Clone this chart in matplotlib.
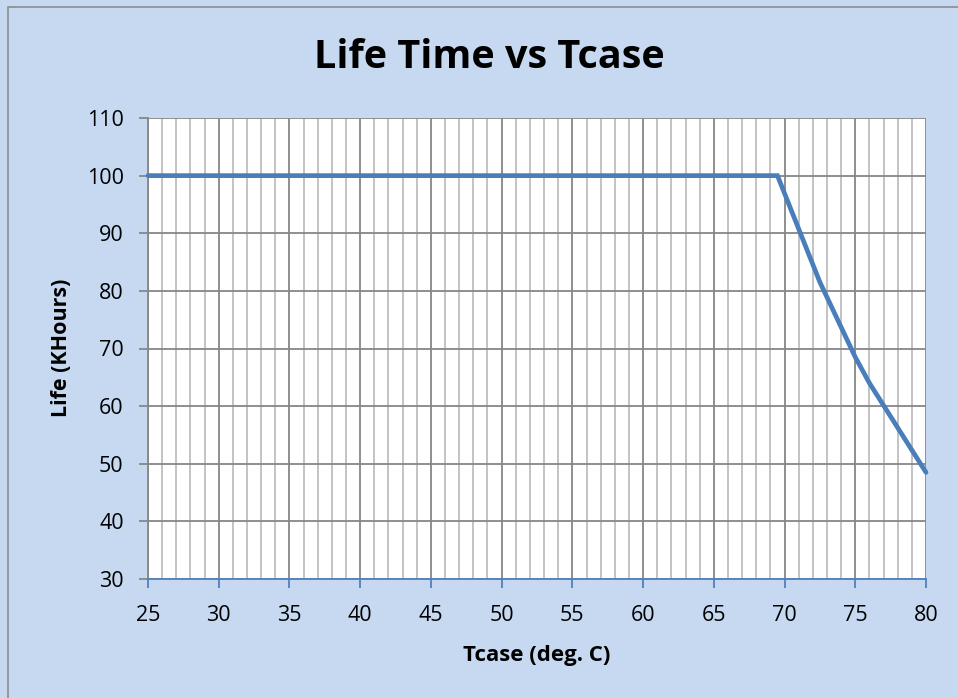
import matplotlib
matplotlib.use("Agg")
import matplotlib.pyplot as plt
from matplotlib.patches import Rectangle

# values
tcase = [25, 69.5, 72.5, 75, 76, 80]
life = [100, 100, 81.5, 68.5, 64, 48.5]

x_ticks = [25, 30, 35, 40, 45, 50, 55, 60, 65, 70, 75, 80]
y_ticks = [30, 40, 50, 60, 70, 80, 90, 100, 110]

bg = "#C6D9F0"
plt.rcParams["font.family"] = ["Open Sans", "DejaVu Sans"]

fig = plt.figure(figsize=(9.58, 6.98), dpi=100, facecolor=bg)
fig.patches.append(Rectangle((8 / 958, -0.1), 1.2, 1 - 7 / 698 + 0.1,
                             transform=fig.transFigure, fill=False,
                             edgecolor="#8C8C8C", linewidth=1.2))

ax = fig.add_axes([148 / 958, 1 - 579 / 698, (926 - 148) / 958, (579 - 118) / 698])
ax.set_facecolor("white")

ax.set_xlim(25, 80)
ax.set_ylim(30, 110)
ax.set_xticks(x_ticks)
ax.set_xticks(range(25, 81), minor=True)
ax.set_yticks(y_ticks)

ax.grid(which="minor", axis="x", color="#BEBEBE", linewidth=1.3)
ax.grid(which="major", axis="x", color="#868686", linewidth=1.3)
ax.grid(which="major", axis="y", color="#868686", linewidth=1.3)
ax.set_axisbelow(True)

ax.plot(tcase, life, color="#4A7EBB", linewidth=3.4, solid_capstyle="round",
        solid_joinstyle="miter", zorder=3, clip_on=False)

for s in ["top", "right"]:
    ax.spines[s].set_visible(False)
ax.spines["left"].set_color("#868686")
ax.spines["left"].set_linewidth(1.3)
ax.spines["bottom"].set_color("#4F81BD")
ax.spines["bottom"].set_linewidth(1.3)

ax.tick_params(axis="x", which="major", direction="out", length=6.5, width=1.3,
               color="#4F81BD", pad=12, labelsize=15.5)
ax.tick_params(axis="x", which="minor", length=0)
ax.tick_params(axis="y", direction="out", length=6.5, width=1.3,
               color="#868686", pad=11, labelsize=15.5)

fig.text(489 / 958, 1 - 58 / 698, "Life Time vs Tcase", ha="center", va="center",
         fontsize=28.5, fontweight="bold")
fig.text(537 / 958, 1 - 655 / 698, "Tcase (deg. C)", ha="center", va="center",
         fontsize=16, fontweight="bold")
fig.text(62 / 958, 1 - 348 / 698, "Life (KHours)", ha="center", va="center",
         rotation=90, fontsize=15.5, fontweight="bold")

fig.savefig("out.png", dpi=100, facecolor=bg)
